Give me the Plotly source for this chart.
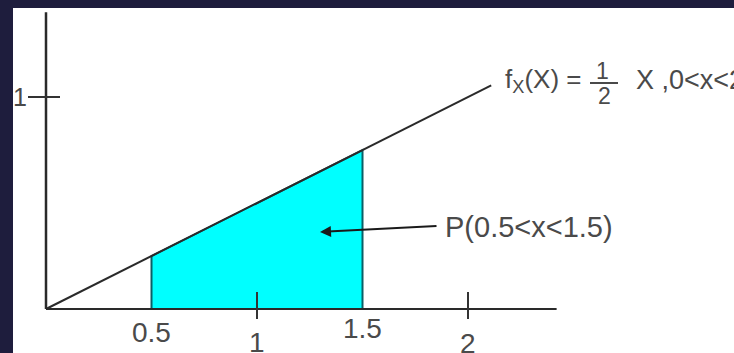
import plotly.graph_objects as go

# ---- data ----
slope = 0.5                      # f_X(x) = x/2
line_x = [0.0, 2.11]             # drawn extent of the density line
shade_range = [0.5, 1.5]         # P(0.5 < x < 1.5)
x_tick_vals = [0.5, 1, 1.5, 2]
x_tick_text = ["0.5", "1", "1.5", "2"]
x_tick_marks = [1, 2]            # small vertical ticks on the x axis
y_tick_vals = [1]
y_tick_text = ["1"]
x_axis_end = 2.42
y_axis_end = 1.40

# ---- pixel mapping helpers (layout only) ----
W, H = 734, 353
X0PX, XSC = 46.0, 211.0   # px of x=0, px per unit
Y0PX, YSC = 309.0, 212.0  # px of f=0, px per unit
def dx(px): return (px - X0PX) / XSC
def dy(py): return (Y0PX - py) / YSC

BG = "#1e1d3d"
INK = "#2a2a2a"
TXT = "#4a4a4a"
FONT = "Liberation Sans, Arial, sans-serif"

fig = go.Figure()

# shaded probability region
sx = [shade_range[0], shade_range[0], shade_range[1], shade_range[1]]
sy = [0, slope * shade_range[0], slope * shade_range[1], 0]
fig.add_trace(go.Scatter(x=sx, y=sy, fill="toself", fillcolor="#00ffff",
                         mode="lines", line=dict(color="#0b5f66", width=2),
                         hoverinfo="skip", showlegend=False))

# axes
fig.add_trace(go.Scatter(x=[0, x_axis_end], y=[0, 0], mode="lines",
                         line=dict(color=INK, width=2), showlegend=False, hoverinfo="skip"))
fig.add_trace(go.Scatter(x=[0, 0], y=[0, y_axis_end], mode="lines",
                         line=dict(color=INK, width=2.5), showlegend=False, hoverinfo="skip"))

# density line
fig.add_trace(go.Scatter(x=line_x, y=[slope * v for v in line_x], mode="lines",
                         line=dict(color=INK, width=2), showlegend=False, hoverinfo="skip"))

# tick marks
for t in x_tick_marks:
    fig.add_trace(go.Scatter(x=[t, t], y=[dy(292), dy(319)], mode="lines",
                             line=dict(color="#333333", width=2), showlegend=False, hoverinfo="skip"))
for t in y_tick_vals:
    fig.add_trace(go.Scatter(x=[dx(28), dx(60)], y=[t, t], mode="lines",
                             line=dict(color="#333333", width=2), showlegend=False, hoverinfo="skip"))

ann = []
# x tick labels (positions vary as in the original drawing)
label_py = {"0.5": 332, "1": 342, "1.5": 328, "2": 343}
for v, t in zip(x_tick_vals, x_tick_text):
    ann.append(dict(x=v, y=dy(label_py[t]), text=t, showarrow=False,
                    xanchor="center", yanchor="middle",
                    font=dict(family=FONT, size=28, color=TXT)))
for v, t in zip(y_tick_vals, y_tick_text):
    ann.append(dict(x=dx(29), y=v, text=t, showarrow=False, xanchor="right",
                    yanchor="middle", font=dict(family=FONT, size=25, color=TXT)))

# formula label
ann.append(dict(x=dx(503), y=dy(80), text="f<sub>X</sub>(X) =", showarrow=False,
                xanchor="left", yanchor="middle", font=dict(family=FONT, size=26, color=TXT)))
ann.append(dict(x=dx(602), y=dy(71), text="1", showarrow=False, xanchor="center",
                yanchor="middle", font=dict(family=FONT, size=23, color=TXT)))
ann.append(dict(x=dx(604), y=dy(96), text="2", showarrow=False, xanchor="center",
                yanchor="middle", font=dict(family=FONT, size=23, color=TXT)))
ann.append(dict(x=dx(634), y=dy(80), text="X ,0&lt;x&lt;2", showarrow=False,
                xanchor="left", yanchor="middle", font=dict(family=FONT, size=27, color=TXT)))

# probability label + arrow
ann.append(dict(x=dx(443), y=dy(227), text="P(0.5&lt;x&lt;1.5)", showarrow=False,
                xanchor="left", yanchor="middle", font=dict(family=FONT, size=29, color=TXT)))
ann.append(dict(x=dx(320), y=dy(232), ax=dx(438), ay=dy(226), axref="x", ayref="y",
                text="", showarrow=True, arrowhead=2, arrowsize=1.1, arrowwidth=2,
                arrowcolor="#1a1a1a"))

shapes = [
    dict(type="rect", xref="paper", yref="paper", x0=13 / W, x1=1, y0=0, y1=1 - 8 / H,
         fillcolor="white", line=dict(width=0), layer="below"),
    dict(type="line", xref="x", yref="y", x0=dx(590), x1=dx(618), y0=dy(83), y1=dy(83),
         line=dict(color=TXT, width=2)),
]

fig.update_layout(
    width=W, height=H, margin=dict(l=0, r=0, t=0, b=0),
    paper_bgcolor=BG, plot_bgcolor="rgba(0,0,0,0)",
    xaxis=dict(range=[dx(0), dx(W)], visible=False, fixedrange=True),
    yaxis=dict(range=[dy(H), dy(0)], visible=False, fixedrange=True),
    annotations=ann, shapes=shapes, showlegend=False,
)

fig.write_html("out.html", config={"displayModeBar": False},
               post_script="document.body.style.margin='0';document.body.style.background='%s';" % BG)
